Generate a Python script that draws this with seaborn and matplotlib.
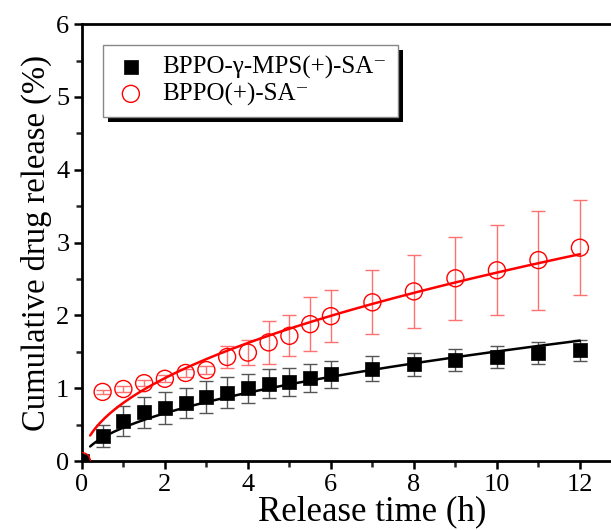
import numpy as np
import pandas as pd
import matplotlib
matplotlib.use("Agg")
import matplotlib.pyplot as plt
import seaborn as sns
from matplotlib.patches import Rectangle
from matplotlib.ticker import MultipleLocator

# release time (h)
TIME = [0, 0.5, 1, 1.5, 2, 2.5, 3, 3.5, 4, 4.5, 5, 5.5, 6, 7, 8, 9, 10, 11, 12]

# BPPO-gamma-MPS(+)-SA-
MPS_MEAN = [0, 0.35, 0.55, 0.67, 0.73, 0.80, 0.88, 0.94, 1.00, 1.06, 1.09, 1.14,
            1.19, 1.27, 1.33, 1.39, 1.43, 1.48, 1.52]
MPS_ERR = [0, 0.15, 0.20, 0.21, 0.22, 0.21, 0.22, 0.21, 0.20, 0.20, 0.19, 0.19,
           0.18, 0.17, 0.16, 0.15, 0.15, 0.15, 0.14]

# BPPO(+)-SA-
SA_MEAN = [0, 0.95, 0.99, 1.07, 1.13, 1.21, 1.25, 1.43, 1.49, 1.63, 1.72, 1.88,
           1.99, 2.18, 2.33, 2.51, 2.62, 2.76, 2.93]
SA_ERR = [0, 0.03, 0.04, 0.04, 0.05, 0.05, 0.05, 0.15, 0.17, 0.30, 0.28, 0.37,
          0.36, 0.44, 0.50, 0.57, 0.62, 0.68, 0.65]

# power-law fit y = k * t^n, parameters
MPS_FIT = (0.46, 0.515)
SA_FIT = (0.80, 0.51)
FIT_START = 0.2
FIT_END = 12

LABEL_MPS = "BPPO-\u03b3-MPS(+)-SA\u207b"
LABEL_SA = "BPPO(+)-SA\u207b"

sns.set_theme(style="ticks")
plt.rcParams["font.family"] = ["Liberation Serif", "DejaVu Serif"]
plt.rcParams["text.color"] = "black"
plt.rcParams["axes.labelcolor"] = "black"

df = pd.DataFrame({
    "time": TIME * 2,
    "release": MPS_MEAN + SA_MEAN,
    "err": MPS_ERR + SA_ERR,
    "sample": [LABEL_MPS] * len(TIME) + [LABEL_SA] * len(TIME),
})

t_fit = np.linspace(FIT_START, FIT_END, 200)
fit_df = pd.DataFrame({
    "time": np.concatenate([t_fit, t_fit]),
    "release": np.concatenate([MPS_FIT[0] * t_fit ** MPS_FIT[1], SA_FIT[0] * t_fit ** SA_FIT[1]]),
    "sample": [LABEL_MPS] * len(t_fit) + [LABEL_SA] * len(t_fit),
})

fig = plt.figure(figsize=(6.11, 5.30), dpi=100)
# axes runs past the right edge of the figure, as in the cropped original
ax = fig.add_axes([0.134, 0.130, 0.951, 0.8245])

# error bars
mps = df[df["sample"] == LABEL_MPS]
sa = df[df["sample"] == LABEL_SA]
ax.errorbar(mps["time"], mps["release"], yerr=mps["err"], fmt="none",
            ecolor="#555555", elinewidth=1.0, capsize=5, capthick=1.0, zorder=2)
ax.errorbar(sa["time"], sa["release"], yerr=sa["err"], fmt="none",
            ecolor="#ff7070", elinewidth=1.0, capsize=5, capthick=1.0, zorder=2)

# fitted curves
sns.lineplot(data=fit_df, x="time", y="release", hue="sample",
             palette={LABEL_MPS: "black", LABEL_SA: "red"}, linewidth=1.8,
             legend=False, ax=ax, zorder=3)

# data points
sns.scatterplot(data=mps, x="time", y="release", marker="s", s=110,
                color="black", edgecolor="black", linewidth=0.5,
                label=LABEL_MPS, ax=ax, zorder=4)
sns.scatterplot(data=sa, x="time", y="release", marker="o", s=150,
                facecolor="none", edgecolor="red", linewidth=1.0,
                label=LABEL_SA, ax=ax, zorder=4)

ax.set_xlim(0, 14)
ax.set_ylim(0, 6)
ax.set_xticks([0, 2, 4, 6, 8, 10, 12])
ax.set_xticks(np.arange(1, 14, 2), minor=True)
ax.yaxis.set_major_locator(MultipleLocator(1))
ax.yaxis.set_minor_locator(MultipleLocator(0.5))
ax.tick_params(which="major", direction="out", length=6, width=1.8,
               labelsize=19, colors="black", pad=3)
ax.tick_params(which="minor", direction="out", length=4, width=1.8)
for side in ["left", "bottom", "top", "right"]:
    ax.spines[side].set_visible(True)
    ax.spines[side].set_linewidth(2.0)
    ax.spines[side].set_color("black")

ax.set_xlabel("Release time (h)", fontsize=25, labelpad=0)
ax.set_ylabel("Cumulative drug release (%)", fontsize=23.5, labelpad=3)

leg = ax.legend(loc="upper left", bbox_to_anchor=(0.037, 0.953), fontsize=18,
                frameon=True, fancybox=False, edgecolor="#888888",
                facecolor="white", framealpha=1.0,
                handletextpad=0.6, borderpad=0.45, labelspacing=0.15,
                handlelength=1.3, borderaxespad=0)
leg.get_frame().set_linewidth(1.0)
leg.set_zorder(6)

# solid offset shadow behind the legend box
fig.canvas.draw()
bb = leg.get_window_extent().transformed(ax.transAxes.inverted())
dx = 5 / (ax.bbox.width)
dy = 5 / (ax.bbox.height)
ax.add_patch(Rectangle((bb.x0 + dx, bb.y0 - dy), bb.width, bb.height,
                       transform=ax.transAxes, facecolor="black",
                       edgecolor="none", zorder=5.5, clip_on=False))

fig.savefig("out.png", dpi=100)
